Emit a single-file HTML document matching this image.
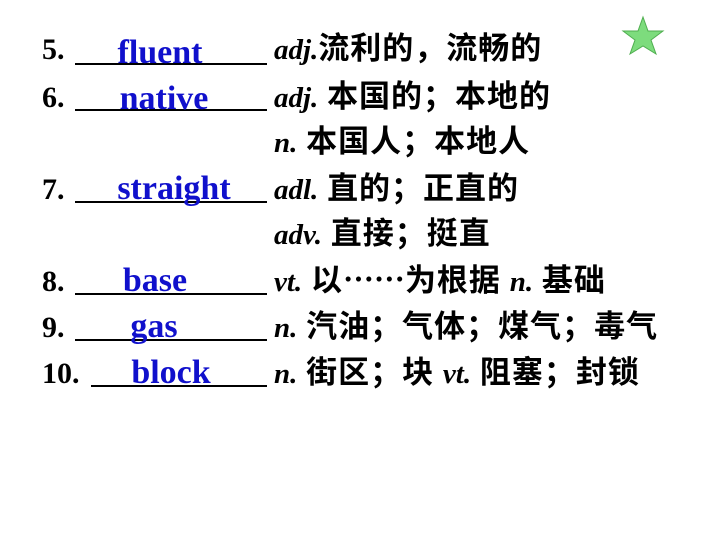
<!DOCTYPE html>
<html><head><meta charset="utf-8"><style>
html,body{margin:0;padding:0;background:#fff;width:720px;height:540px;overflow:hidden}
svg{display:block}
.n{font-family:"Liberation Serif",serif;font-weight:bold;font-size:30px;fill:#000}
.b{font-family:"Liberation Serif",serif;font-weight:bold;font-size:34px;fill:#1010cc}
.d{font-family:"Liberation Serif","Noto Sans CJK SC",sans-serif;font-weight:bold;font-size:31px;fill:#000;letter-spacing:1px}
.i{font-family:"Liberation Serif",serif;font-style:italic;font-weight:bold;letter-spacing:0;font-size:29px}
.e{font-family:"Noto Sans CJK SC",sans-serif;letter-spacing:0}
</style></head><body>
<svg width="720" height="540" viewBox="0 0 720 540">
<g stroke="#000" stroke-width="2">
<line x1="75" y1="64" x2="267" y2="64"/>
<line x1="75" y1="110" x2="267" y2="110"/>
<line x1="75" y1="202" x2="267" y2="202"/>
<line x1="75" y1="294" x2="267" y2="294"/>
<line x1="75" y1="340" x2="267" y2="340"/>
<line x1="91" y1="386" x2="267" y2="386"/>
</g>
<text class="n" x="42" y="59">5.</text>
<text class="n" x="42" y="107">6.</text>
<text class="n" x="42" y="199">7.</text>
<text class="n" x="42" y="291">8.</text>
<text class="n" x="42" y="337">9.</text>
<text class="n" x="42" y="383">10.</text>
<text class="b" x="160" y="63" text-anchor="middle">fluent</text>
<text class="b" x="164" y="109" text-anchor="middle">native</text>
<text class="b" x="174" y="199" text-anchor="middle">straight</text>
<text class="b" x="155" y="291" text-anchor="middle">base</text>
<text class="b" x="154" y="337" text-anchor="middle">gas</text>
<text class="b" x="171" y="383" text-anchor="middle">block</text>
<text class="d" x="274" y="59"><tspan class="i">adj.</tspan>流利的，流畅的</text>
<text class="d" x="274" y="107"><tspan class="i">adj.</tspan> 本国的；本地的</text>
<text class="d" x="274" y="152"><tspan class="i">n.</tspan> 本国人；本地人</text>
<text class="d" x="274" y="199"><tspan class="i">adl.</tspan> 直的；正直的</text>
<text class="d" x="274" y="244"><tspan class="i">adv.</tspan> 直接；挺直</text>
<text class="d" x="274" y="291"><tspan class="i">vt.</tspan> 以<tspan class="e">……</tspan>为根据 <tspan class="i">n.</tspan> 基础</text>
<text class="d" x="274" y="337"><tspan class="i">n.</tspan> 汽油；气体；煤气；毒气</text>
<text class="d" x="274" y="383"><tspan class="i">n.</tspan> 街区；块 <tspan class="i">vt.</tspan> 阻塞；封锁</text>
<polygon points="643,17 648,31 663,31 651,40 656,54 643,46 630,54 635,40 623,31 638,31" fill="#7ddc7d" stroke="#4fae4f" stroke-width="1"/>
</svg>
</body></html>
